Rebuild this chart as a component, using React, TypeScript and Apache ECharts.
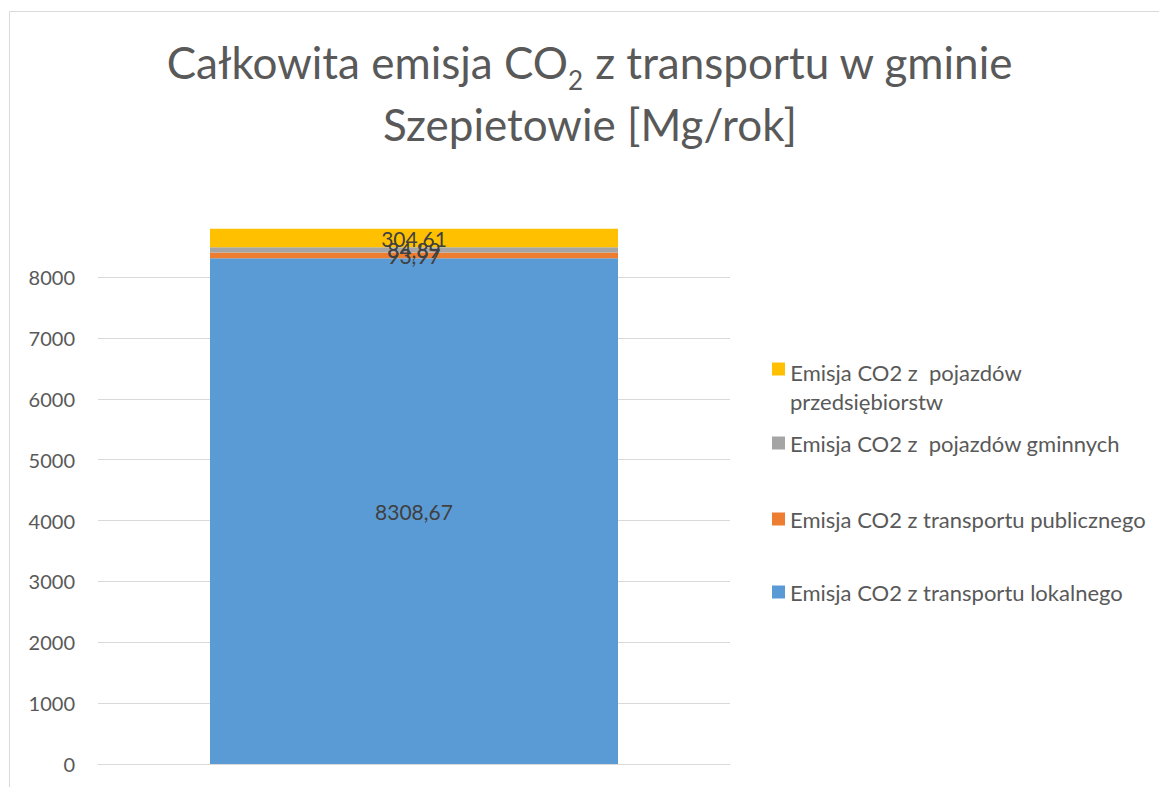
import React, { useEffect, useRef } from "react";
import * as echarts from "echarts";

const categories = ["Szepietowie"];
const seriesNames = [
  "Emisja CO2 z transportu lokalnego",
  "Emisja CO2 z transportu publicznego",
  "Emisja CO2 z  pojazdów gminnych",
  "Emisja CO2 z  pojazdów przedsiębiorstw",
];
const lokalny = [8308.67];
const publiczny = [93.97];
const gminne = [84.89];
const przedsiebiorstwa = [304.61];
const colors = ["#5B9BD5", "#ED7D31", "#A5A5A5", "#FFC000"];
const legendTops = [577.5, 504.5, 428.5, 325.5];

const FONT = "Lato, 'Noto Sans', sans-serif";

export default function App() {
  const ref = useRef<HTMLDivElement>(null);
  useEffect(() => {
    if (!ref.current) return;
    const chart = echarts.init(ref.current, undefined, { renderer: "svg" });
    const values = [lokalny, publiczny, gminne, przedsiebiorstwa];
    const fmt = (p: any) => Number(p.value).toFixed(2).replace(".", ",");
    chart.setOption({
      animation: false,
      backgroundColor: "#ffffff",
      textStyle: { fontFamily: FONT },
      title: {
        text: "Całkowita emisja CO{sub|2} z transportu w gminie\nSzepietowie [Mg/rok]",
        left: 585,
        textAlign: "center",
        top: 26,
        textStyle: {
          fontFamily: FONT,
          fontSize: 44,
          fontWeight: "normal",
          color: "#595959",
          lineHeight: 62,
          rich: {
            sub: {
              fontFamily: FONT,
              fontSize: 26,
              color: "#595959",
              verticalAlign: "bottom",
              lineHeight: 38,
            },
          },
        },
      },
      graphic: [
        {
          type: "rect",
          shape: { x: 9.5, y: 11.5, width: 1300, height: 900 },
          style: { fill: "none", stroke: "#d9d9d9", lineWidth: 1 },
          silent: true,
        },
      ],
      legend: seriesNames.map((n, i) => ({
        data: [n],
        orient: "vertical",
        left: 772,
        top: legendTops[i],
        padding: 0,
        icon: "rect",
        itemWidth: 13,
        itemHeight: 13,
        itemGap: 0,
        selectedMode: false,
        formatter: (name: string) =>
          name === "Emisja CO2 z  pojazdów przedsiębiorstw"
            ? "{sp| }{a|Emisja CO2 z  pojazdów}\n{a|przedsiębiorstw}"
            : name,
        textStyle: {
          fontFamily: FONT,
          fontSize: 22,
          color: "#595959",
          lineHeight: 29,
          rich: {
            sp: { fontSize: 1, lineHeight: 58 },
            a: {
              fontFamily: FONT,
              fontSize: 22,
              color: "#595959",
              lineHeight: 29,
              verticalAlign: "bottom",
            },
          },
        },
      })),
      grid: { left: 98, right: 429, top: 228.3, bottom: 23, containLabel: false },
      xAxis: {
        type: "category",
        data: categories,
        axisLine: { show: true, lineStyle: { color: "#d9d9d9", width: 1 } },
        axisTick: { show: false },
        axisLabel: { show: false },
      },
      yAxis: {
        type: "value",
        min: 0,
        max: 8800,
        interval: 1000,
        axisLine: { show: false },
        axisTick: { show: false },
        axisLabel: {
          show: true,
          showMaxLabel: false,
          margin: 23,
          fontFamily: FONT,
          fontSize: 20,
          color: "#595959",
          formatter: (v: number) => String(v),
        },
        splitLine: { show: true, showMaxLine: false, lineStyle: { color: "#d9d9d9", width: 1 } },
      },
      series: seriesNames.map((n, i) => ({
        name: n,
        type: "bar",
        stack: "total",
        barWidth: 408,
        data: values[i],
        itemStyle: { color: colors[i] },
        label: {
          show: true,
          position: "inside",
          formatter: fmt,
          fontFamily: FONT,
          fontSize: 21,
          color: "#404040",
        },
        labelLayout: { hideOverlap: false },
      })),
    });
    return () => chart.dispose();
  }, []);
  return (
    <div
      ref={ref}
      style={{ position: "fixed", left: 0, top: 0, width: 1159, height: 787 }}
    />
  );
}
